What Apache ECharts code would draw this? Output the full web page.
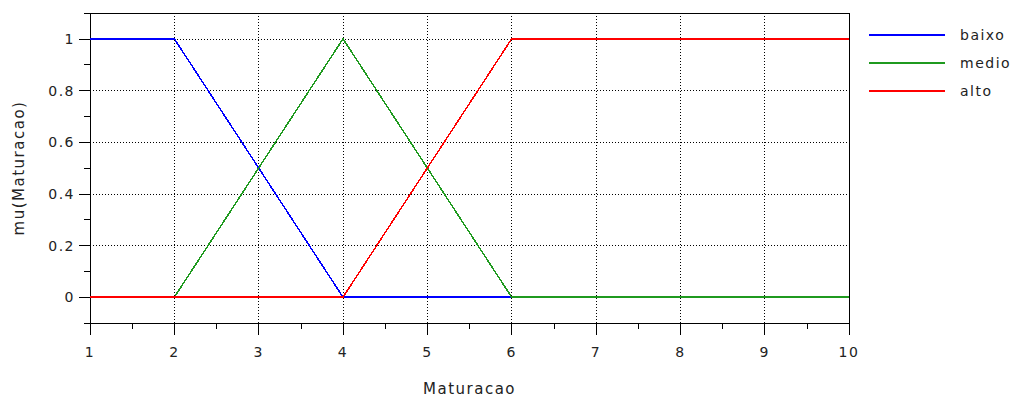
<!DOCTYPE html>
<html>
<head>
<meta charset="utf-8">
<script src="https://cdn.jsdelivr.net/npm/echarts@6/dist/echarts.min.js"></script>
<style>
html,body{margin:0;padding:0;background:#fff;}
#chart{width:1016px;height:396px;}
#chart svg text{letter-spacing:1.5px;}
#chart svg path{shape-rendering:crispEdges;}
</style>
</head>
<body>
<div id="chart"></div>
<script>
// Data
const baixo = [[1, 1], [2, 1], [4, 0], [10, 0]];
const medio = [[1, 0], [2, 0], [4, 1], [6, 0], [10, 0]];
const alto  = [[1, 0], [4, 0], [6, 1], [10, 1]];
const seriesNames = ['baixo', 'medio', 'alto'];
const yTicks = [0, 0.2, 0.4, 0.6, 0.8, 1];

const colors = ['#0000ff', '#1f9a1f', '#ff0000'];
const FONT = 'DejaVu Sans';
const TXT = '#222';

const chart = echarts.init(document.getElementById('chart'), null, {renderer: 'svg'});
const dotted = {color: '#000', width: 1, type: [1, 2]};

chart.setOption({
  animation: false,
  color: colors,
  grid: {left: 90, right: 167, top: 13, bottom: 73, show: true, borderColor: '#000', borderWidth: 1,
         backgroundColor: 'transparent', containLabel: false, outerBoundsMode: 'none'},
  legend: {
    orient: 'vertical', left: 869, top: 28, padding: 0,
    itemWidth: 76, itemHeight: 14, itemGap: 14,
    data: seriesNames.map((n, i) => ({name: n, icon: 'path://M0,0L76,0L76,2L0,2Z', itemStyle: {color: colors[i]}})),
    textStyle: {fontFamily: FONT, fontSize: 14, color: TXT, padding: [0, 0, 0, 10]}
  },
  xAxis: {
    type: 'value', min: 1, max: 10, interval: 1,
    name: 'Maturacao', nameLocation: 'middle', nameGap: 58,
    nameTextStyle: {fontFamily: FONT, fontSize: 15, color: TXT},
    axisLine: {show: true, onZero: false, lineStyle: {color: '#000', width: 1}},
    axisTick: {show: true, length: 12, lineStyle: {color: '#000', width: 1}},
    minorTick: {show: true, splitNumber: 2, length: 6, lineStyle: {color: '#000', width: 1}},
    axisLabel: {fontFamily: FONT, fontSize: 14, color: TXT, margin: 22},
    splitLine: {show: true, lineStyle: dotted}
  },
  yAxis: [{
    type: 'value', min: -0.1, max: 1.1,
    name: 'mu(Maturacao)', nameLocation: 'middle', nameGap: 64, nameRotate: 90,
    nameTextStyle: {fontFamily: FONT, fontSize: 15, color: TXT},
    axisLine: {show: true, onZero: false, lineStyle: {color: '#000', width: 1}},
    axisTick: {show: true, length: 11, customValues: yTicks, lineStyle: {color: '#000', width: 1}},
    axisLabel: {fontFamily: FONT, fontSize: 14, color: TXT, margin: 15, customValues: yTicks},
    splitLine: {show: true, lineStyle: dotted}
  }, {
    type: 'value', min: -0.1, max: 1.1, interval: 0.1, position: 'left',
    axisLine: {show: false},
    axisTick: {show: true, length: 6, lineStyle: {color: '#000', width: 1}},
    axisLabel: {show: false},
    splitLine: {show: false}
  }],
  series: [
    {name: 'baixo', type: 'line', data: baixo, symbol: 'none', lineStyle: {width: 1.5, color: colors[0]}, z: 3},
    {name: 'medio', type: 'line', data: medio, symbol: 'none', lineStyle: {width: 1.5, color: colors[1]}, z: 4},
    {name: 'alto', type: 'line', data: alto, symbol: 'none', lineStyle: {width: 1.5, color: colors[2]}, z: 5}
  ]
});
</script>
</body>
</html>
